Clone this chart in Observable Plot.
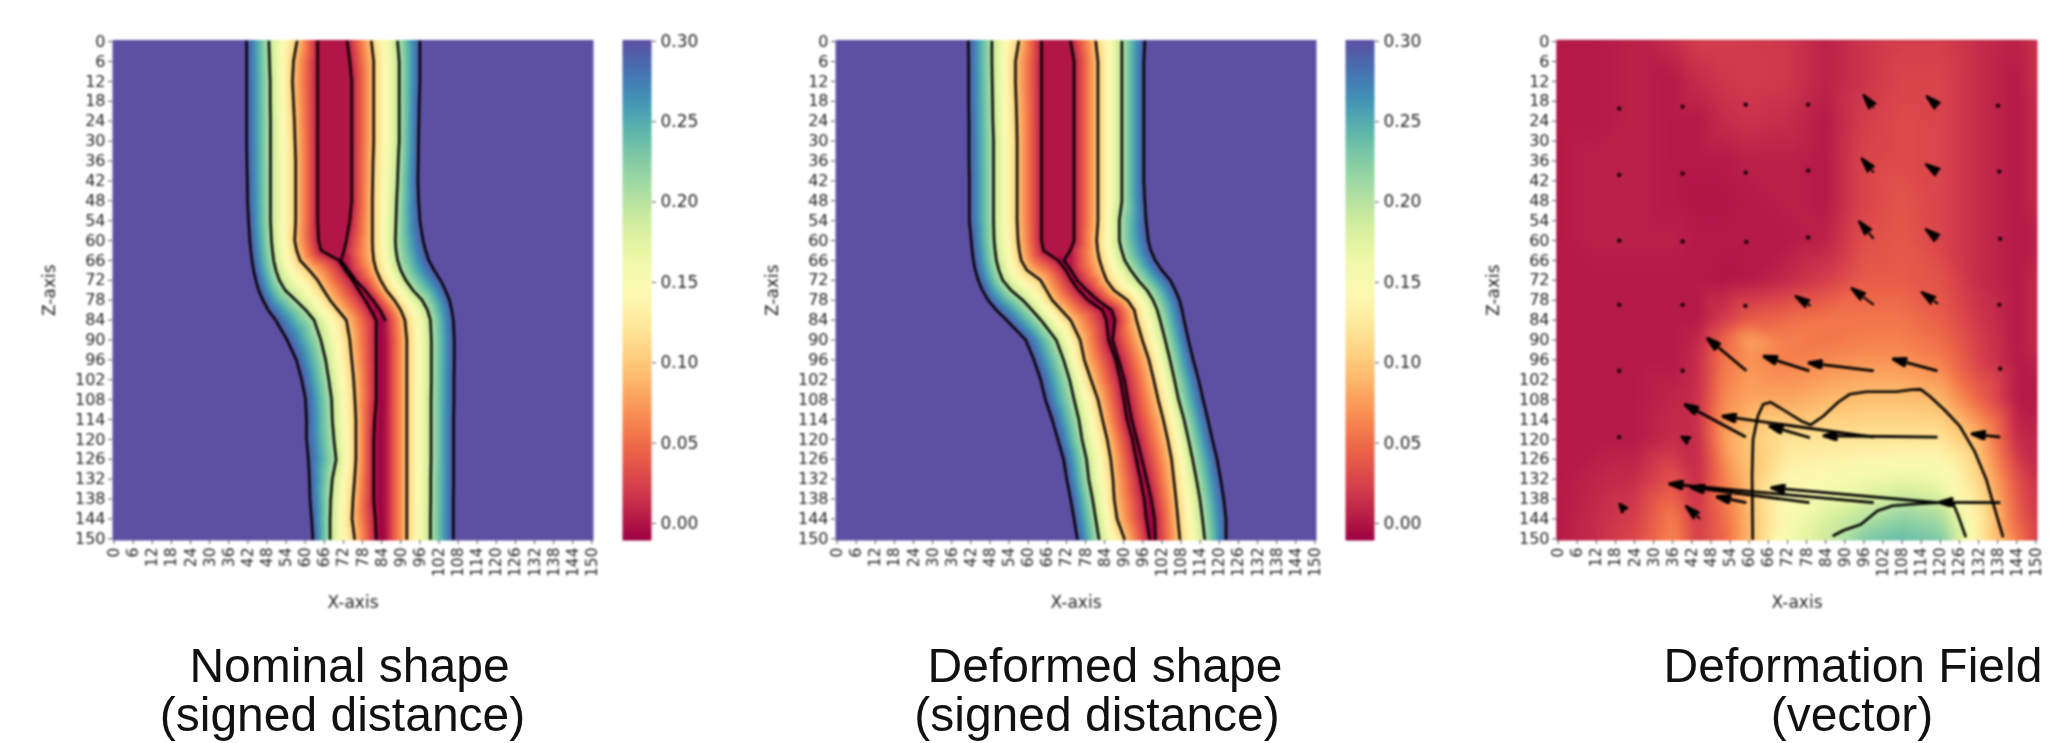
<!DOCTYPE html>
<html><head><meta charset="utf-8">
<script src="https://cdn.jsdelivr.net/npm/d3@7"></script>
<script src="https://cdn.jsdelivr.net/npm/@observablehq/plot@0.6"></script>
<style>
html,body{margin:0;padding:0;background:#fff;overflow:hidden}
#page{position:relative;width:2059px;height:743px;overflow:hidden}
.panel{position:absolute;top:0;filter:blur(.8px)}
.panel [aria-label$="axis label"]{font-size:17px}
.soft{filter:blur(5px)}
.line{position:absolute;font-family:"Liberation Sans",Arial,sans-serif;font-size:48px;line-height:48px;color:#111;white-space:nowrap;transform:translateX(-50%);filter:blur(.5px)}
</style></head><body><div id="page"></div>
<script>
const levels = [0.3, 0.2, 0.1, 0, 0, 0.1, 0.2, 0.3];
const tickValues = d3.range(0, 151, 6);
const barTicks = [0, 0.05, 0.10, 0.15, 0.20, 0.25, 0.30];
const rows = [0,6,12,18,24,30,36,42,48,54,60,63,66,69,72,75,78,81,84,90,96,102,108,114,120,126,132,138,144,150];

// Panel 1: x position of each contour at every row
const nomL30 = [41.6,41.6,41.6,41.6,41.6,41.6,41.7,41.8,41.9,42.2,42.6,42.9,43.3,43.8,44.5,45.4,46.7,48.4,50.7,54.3,57.2,58.9,60.1,60.4,60.4,61,61.3,61.5,62,62.4];
const nomL20 = [48.6,48.8,49,49,49.1,49.1,49.1,49.1,49.1,49.1,49.4,49.7,50.1,50.8,51.9,53.7,57,60.2,62.8,64.9,66.4,67.4,68.3,68.5,69,69.7,68.5,68,67.8,67.8];
const nomL10 = [57.4,56.3,56,56.3,56.6,56.8,57,57,57,57,56.7,57.3,58.4,61.3,63.9,65.8,67.8,70.3,72.9,74,74.6,75.2,75.6,75.9,75.9,75.9,75.5,75,74.7,75.5];
const nomL0 = [63.9,63.9,63.9,63.9,63.9,63.9,63.9,63.9,63.9,63.9,64.2,65,70.6,72.6,74.9,76.8,78.8,80.6,82.3,82.3,82.3,82.3,82.3,81.8,81.5,81.5,81.5,81.5,82,82.3];
const nomR0 = [73.2,74,74.6,74.6,74.6,74.6,74.6,74.6,74.6,74,72.9,72.2,71.2,73.6,75.8,78.8,81.3,83.5,85.1,85.4,85.4,85.4,85.4,85.4,85.4,85.4,85.4,85.4,85.4,85.4];
const nomR10 = [80.8,81.5,81.5,81.5,81.5,81.5,81.3,81.2,81.1,81.1,81.1,81.2,81.5,82.3,83.7,85.5,88,90,91.3,91.9,91.9,91.9,91.9,91.9,91.9,91.9,91.9,91.9,91.9,91.9];
const nomR20 = [89,89.5,89.5,89.5,89.5,89.5,89.2,89,88.7,88.5,88.3,88.5,89,90,91.6,93.8,96.7,98.4,99.3,99.6,99.6,99.6,99.5,99.5,99.5,99.5,99.4,99.4,99.3,99.3];
const nomR30 = [96,96,96,95.8,95.7,95.6,95.5,95.4,95.6,96,97,97.8,98.8,100.5,102.5,104,105.3,106,106.5,106.8,106.8,106.7,106.7,106.6,106.6,106.6,106.6,106.5,106.5,106.5];

// Panel 2
const defL30 = [41.2,41.3,41.3,41.3,41.4,41.4,41.4,41.5,41.5,41.5,42.1,42.4,42.8,43.4,44.3,45.6,47.4,50,53.2,59.2,61.8,63.9,65.4,67.5,69.3,71.1,72.1,73.3,74.4,75.4];
const defL20 = [48.6,48.6,48.7,48.8,48.9,49.1,49.1,49.1,49.1,49.1,49.3,49.6,50,50.8,52,54.6,58.3,61.2,64,68.8,71.1,73,74.4,75.9,76.9,78.3,79,80.2,81.2,82.2];
const defL10 = [57,56,56,56.2,56.4,56.5,56.5,56.5,56.5,56.5,56.8,57.2,57.8,59.6,63.9,65.7,67.5,70.4,73.3,76.3,77.6,79.7,81.9,83.3,84.8,85.9,86.6,87,87.9,90.2];
const defL0 = [64.2,64.2,64.2,64.2,64.2,64.2,64.2,64.2,64.2,64.2,64.2,64.8,69.4,71.8,73.6,75.8,78.8,83.3,84.5,85.2,87.4,88.9,90,91,92.7,93.9,95.2,96.4,97.1,98.1];
const defR0 = [73.3,74.4,74.4,74.4,74.4,74.4,74.4,74.4,74.4,74.4,74.4,73.2,71.2,73.5,75.4,78.4,81.8,86.2,87.2,86.5,88.4,90.2,91.3,92.5,94.1,95.7,97.2,98.6,99.7,99.9];
const defR10 = [81.2,81.9,81.9,81.9,81.9,81.9,81.9,81.9,81.9,81.9,81.5,81.8,82.4,83.4,84.6,86.9,91.2,93.3,94,95.8,97.9,99.4,100.8,102.4,103.8,105,105.7,106.4,107,107.6];
const defR20 = [89.4,89.4,89.4,89.4,89.4,89.4,89.4,89.4,89.4,88.6,88.6,89.3,90.3,92.2,94.5,97.3,99.2,100.5,101.4,103,104.5,105.9,107.2,108.9,110.3,111.6,112.8,113.9,114.7,115.4];
const defR30 = [96.6,96.3,96.3,96.3,96.3,96.3,96.3,96.3,96.6,97,97.7,98.5,99.9,102,104.6,106.2,107.5,108.3,108.9,110.3,111.8,113.5,114.9,116.4,117.8,119.3,120.4,121.4,122.1,122.1];

// Panel 3: background field, values
const fieldX = [0,12,24,36,44,52,60,72,84,96,108,120,132,144,150];
const fieldZ = [0,12,24,36,48,60,72,84,90,96,108,120,132,144,150];
const field = [
 [.2,.2,.6,1.2,2.2,2.2,2,1.8,.6,1.6,2.2,2.2,1.2,.6,1.6],
 [.2,.2,.6,.2,1.2,1.8,2,1.8,.6,1.6,2.6,2.6,1.2,.2,1.6],
 [.2,.2,.6,.2,.2,1.2,1.6,1.2,.2,2.2,3,2.6,1.2,.2,1.2],
 [.2,.6,.6,.2,.2,.2,.6,.6,.2,2.6,3,2.6,1.2,.2,1.2],
 [.2,.6,.6,.2,0,0,.2,.6,.2,2.6,3.5,2.6,1.2,.2,1.2],
 [.2,.6,.6,.6,.2,.2,.2,.2,.6,3.2,3.8,2.6,1.2,.2,.6],
 [.2,.2,.2,.2,.2,0,.2,1,2.2,4,4,3.4,1.2,.2,1.2],
 [.2,.2,.2,.2,.2,2,4,5,5.5,5.5,5.5,4.2,1.8,.2,1.2],
 [.2,.2,.2,.2,.8,4.5,8,6,5.5,6,6,5,2.2,.2,1.2],
 [.2,.2,.2,.2,1.2,5.5,7,6,6.5,7,7,6,2.4,.2,.8],
 [.2,.2,.2,.8,1.4,6.5,8,8,9,9.5,9.5,9,4.6,.2,.2],
 [.2,.2,.2,1.2,1.2,7.5,10,12,12,12,12,12,9,1.2,.8],
 [.2,.8,1.2,3.4,1.2,6,9.5,14,15,16,17,16,11,3.4,1.2],
 [.2,1.2,2.2,6,1.8,5,9,15,18,20,22,21,13,4.6,1.8],
 [.2,1.2,2.8,6.5,2.2,4.5,9,16,19,23,24,23,13,6,1.8]
];
const outerContour = [[61.1,150],[60.9,130.8],[61.2,120],[62.7,113],[64.4,109.4],[66.8,108.8],[70.9,111.2],[76.8,114.7],[79.3,115.6],[83.2,113],[87.9,108.8],[91.5,106.4],[96.7,105.6],[106.1,105.6],[110.8,105],[113.8,104.9],[116.7,107],[121.4,111.2],[126.1,116],[130.8,123.7],[134.4,132],[136.7,139.7],[139.6,149.2]];
const innerContour = [[86.5,149],[89.7,147.4],[95,145.7],[100.3,141.5],[105,140],[113.2,139.4],[123.8,138.9],[125.5,142.7],[127.9,149.2]];
const tinyArrows = [[19.2,20.2],[39.1,19.6],[58.9,19],[78.5,19],[138.1,19.3],[19.2,40.2],[39.1,39.8],[58.9,39.5],[78.5,38.9],[138.5,39.2],[19.2,60],[39.1,60.3],[59.1,60.4],[78.5,59.1],[138.8,59.5],[19.2,79.4],[39.1,79.4],[58.8,79.7],[138.5,79.4],[19.2,99.3],[39.1,99.3],[138.8,98.7],[19.2,119.3]];
const smallArrows = [[40.9,120.3,38.6,119.1],[20.6,141,19.2,139.4]];
const shortArrows = [[99.1,20,95.8,16],[119.3,19.6,115.6,16.4],[99.1,39.5,95.2,35.1],[119.3,39.5,115.3,36.9],[99.1,59.5,94.4,54.1],[119.3,59.5,115.3,56.5],[79.3,79.7,74.4,76.7],[99.1,79.4,92,74.3],[119.3,79.1,114,75.5],[44.6,144,40,140]];
const longArrows = [[59.1,99.3,46.8,89.4],[78.9,99.3,64.4,94.9],[99.1,99.3,78.5,96.9],[119.1,99.3,105,95.7],[58.9,119.3,39.7,109.4],[79.1,119.5,66.2,115.9],[119.1,119.3,83.2,118.9],[99.1,119.3,51.5,113],[138.8,119.3,129.7,118.3],[59.1,139.1,49.7,137.3],[78.9,139.1,41.5,134.4],[99.1,139.1,34.8,133.4],[138.8,139.1,119.5,139],[119.1,139.1,66.8,134.6]];

const titles = [
 {text:"Nominal shape", cx:349.5, top:642},
 {text:"(signed distance)", cx:342.5, top:691},
 {text:"Deformed shape", cx:1105, top:642},
 {text:"(signed distance)", cx:1097, top:691},
 {text:"Deformation Field", cx:1853, top:642},
 {text:"(vector)", cx:1852, top:691}
];

const font = "DejaVu Sans";
const colorScale = {type:"linear", scheme:"Spectral", domain:[-0.0106,0.3008], clamp:true};
const PW=481, PH=500.5, ML=112, MT=39.5, MB=80;
const page = document.getElementById("page");
function place(node,left){const d=document.createElement("div");d.className="panel";d.style.left=left+"px";d.appendChild(node);page.appendChild(d);}

function axes(){
  return [
    Plot.axisX(tickValues,{anchor:"bottom",tickSize:4,tickRotate:-90,tickPadding:3,fontSize:15.5,fill:"#262626",stroke:"#555",label:"X-axis",labelAnchor:"center",labelArrow:"none",labelOffset:67}),
    Plot.axisY(tickValues,{anchor:"left",tickSize:4,tickPadding:3,fontSize:16,fill:"#262626",stroke:"#555",label:"Z-axis",labelAnchor:"center",labelArrow:"none",labelOffset:70})
  ];
}
function panel(left,marks){
  place(Plot.plot({width:ML+PW+8,height:MT+PH+MB,marginLeft:ML,marginRight:8,marginTop:MT,marginBottom:MB,
    style:{fontFamily:font,background:"transparent",overflow:"visible"},
    x:{domain:[-0.5,150.5]},y:{domain:[-0.5,150.5],reverse:true},color:colorScale,marks:[...marks,...axes()]}),left);
}
function colorbar(left){
  const ramp=d3.range(-0.0106,0.3009,0.001).reverse();
  place(Plot.plot({width:110,height:MT+PH+MB,marginLeft:1,marginRight:80,marginTop:MT,marginBottom:MB,
    style:{fontFamily:font,background:"transparent"},
    x:{domain:[0,1],axis:null},y:{domain:[-0.0106,0.3008]},color:colorScale,
    marks:[
      Plot.raster(ramp,{width:1,height:ramp.length,x1:0,x2:1,y1:0.3008,y2:-0.0106,fill:d=>d,imageRendering:"auto"}),
      Plot.axisY(barTicks,{anchor:"right",tickSize:4,tickPadding:5,fontSize:17,fill:"#262626",stroke:"#555",label:null,tickFormat:d3.format(".2f")})
    ]}),left);
}
function shapePoints(cs,coreFrom){
  const out=[];
  const add=(x,z,v)=>{out.push({x,z,v}); if(z===0) out.push({x,z:-0.5,v}); if(z===150) out.push({x,z:150.5,v});};
  rows.forEach((z,r)=>{
    cs.forEach((c,i)=>add(c[r],z,levels[i]));
    add((cs[3][r]+cs[4][r])/2,z,z>=coreFrom?-0.0106:0);
    add(-0.5,z,0.3); add(150.5,z,0.3);
  });
  return out;
}
const toLine=c=>c.map((x,i)=>[x,rows[i]]);
const lineMark=(c,sw=2.5)=>Plot.line(c,{x:d=>d[0],y:d=>d[1],stroke:"#000",strokeWidth:sw,curve:"linear"});
function rasterMark(pts,extra){return Plot.raster(pts,{x:"x",y:"z",fill:"v",interpolate:"barycentric",pixelSize:1,...extra});}
function head(len,wid){
  return ()=>{
    const m=document.createElementNS("http://www.w3.org/2000/svg","marker");
    m.setAttribute("viewBox",`${-len-1} ${-wid} ${len+2} ${2*wid}`);
    m.setAttribute("markerUnits","userSpaceOnUse");
    m.setAttribute("markerWidth",len+2);m.setAttribute("markerHeight",2*wid);
    m.setAttribute("refX",0);m.setAttribute("refY",0);m.setAttribute("orient","auto");
    const p=document.createElementNS("http://www.w3.org/2000/svg","path");
    p.setAttribute("d",`M0,0L${-len},${-wid*.85}L${-len*.82},0L${-len},${wid*.85}Z`);
    p.setAttribute("fill","#000");m.appendChild(p);return m;
  };
}

const nomContours=[nomL30,nomL20,nomL10,nomL0,nomR0,nomR10,nomR20,nomR30];
panel(0,[rasterMark(shapePoints(nomContours,66)),
  ...nomContours.map((c,i)=>lineMark(i===4?toLine(c).slice(0,19):toLine(c)))]);
colorbar(621);

const defContours=[defL30,defL20,defL10,defL0,defR0,defR10,defR20,defR30];
panel(723,[rasterMark(shapePoints(defContours,66)),...defContours.map(c=>lineMark(toLine(c)))]);
colorbar(1344);

const fieldPts=[];
field.forEach((row,j)=>row.forEach((v,i)=>{
  const x=fieldX[i]===0?-0.5:fieldX[i]===150?150.5:fieldX[i];
  const z=fieldZ[j]===0?-0.5:fieldZ[j]===150?150.5:fieldZ[j];
  fieldPts.push({x,z,v:v/100});
}));
const linkOpts={x1:d=>d[0],y1:d=>d[1],x2:d=>d[2],y2:d=>d[3],stroke:"black"};
panel(1444,[
  rasterMark(fieldPts),
  rasterMark(fieldPts,{className:"soft",clip:"frame"}),
  lineMark(outerContour,2.6),lineMark(innerContour,2.6),
  Plot.dot(tinyArrows,{x:d=>d[0],y:d=>d[1],r:2.2,fill:"#1a0008"}),
  Plot.link(smallArrows,{...linkOpts,strokeWidth:2,markerEnd:head(9,4.5)}),
  Plot.link(shortArrows,{...linkOpts,strokeWidth:2,markerEnd:head(15,5)}),
  Plot.link(longArrows,{...linkOpts,strokeWidth:2.8,markerEnd:head(14,5)})
]);

titles.forEach(t=>{const d=document.createElement("div");d.className="line";d.textContent=t.text;d.style.left=t.cx+"px";d.style.top=t.top+"px";page.appendChild(d);});
</script></body></html>
